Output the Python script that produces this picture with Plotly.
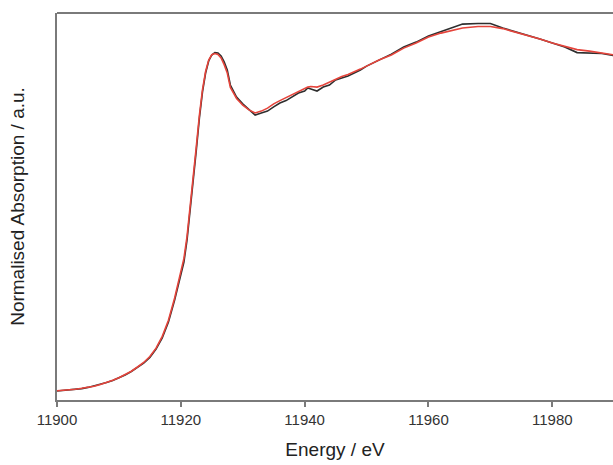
import plotly.graph_objects as go

# Energy grid (eV)
energy = [11900, 11901, 11902, 11903, 11904, 11905, 11906, 11907, 11908, 11909,
          11910, 11911, 11912, 11913, 11914, 11915, 11916, 11917, 11918, 11919,
          11920, 11920.5, 11921, 11921.5, 11922, 11922.5, 11923, 11923.5, 11924, 11924.5,
          11925, 11925.5, 11926, 11926.5, 11927, 11927.5, 11928, 11929, 11930, 11931,
          11932, 11933, 11934, 11935, 11936, 11937, 11938, 11939, 11940, 11940.5,
          11941, 11942, 11943, 11944, 11945, 11946, 11947, 11948, 11949, 11950,
          11952, 11954, 11956, 11958, 11960, 11962, 11964, 11965.5, 11968, 11970,
          11972, 11974, 11976, 11978, 11980, 11982, 11984, 11986, 11988, 11990]

# Normalised absorption, sample 1 (black)
abs_black = [0.030, 0.032, 0.033, 0.037, 0.038, 0.042, 0.047, 0.052, 0.058, 0.065,
             0.073, 0.083, 0.095, 0.108, 0.123, 0.142, 0.170, 0.207, 0.260, 0.333,
             0.417, 0.460, 0.533, 0.627, 0.723, 0.833, 0.940, 1.027, 1.090, 1.130,
             1.150, 1.158, 1.157, 1.147, 1.127, 1.100, 1.050, 1.010, 0.987, 0.970,
             0.950, 0.957, 0.963, 0.977, 0.990, 0.998, 1.010, 1.023, 1.030, 1.040,
             1.037, 1.030, 1.043, 1.050, 1.067, 1.073, 1.080, 1.090, 1.100, 1.113,
             1.133, 1.153, 1.177, 1.193, 1.213, 1.227, 1.240, 1.253, 1.255, 1.255,
             1.240, 1.228, 1.217, 1.203, 1.190, 1.177, 1.158, 1.157, 1.155, 1.148]

# Normalised absorption, sample 2 (red)
abs_red = [0.031, 0.032, 0.034, 0.036, 0.039, 0.042, 0.046, 0.052, 0.058, 0.066,
           0.074, 0.084, 0.096, 0.110, 0.125, 0.145, 0.173, 0.212, 0.266, 0.340,
           0.425, 0.472, 0.545, 0.640, 0.737, 0.845, 0.950, 1.035, 1.095, 1.133,
           1.151, 1.155, 1.152, 1.140, 1.118, 1.090, 1.042, 1.005, 0.983, 0.967,
           0.957, 0.963, 0.973, 0.987, 0.998, 1.008, 1.018, 1.030, 1.038, 1.043,
           1.045, 1.043, 1.050, 1.060, 1.070, 1.078, 1.085, 1.093, 1.103, 1.113,
           1.133, 1.150, 1.173, 1.190, 1.210, 1.223, 1.233, 1.240, 1.245, 1.245,
           1.238, 1.227, 1.215, 1.203, 1.190, 1.180, 1.168, 1.163, 1.157, 1.150]

x_ticks = [11900, 11920, 11940, 11960, 11980]

fig = go.Figure()
fig.add_trace(go.Scatter(x=energy, y=abs_black, mode="lines",
                         line=dict(color="#2e2e2e", width=1.6), showlegend=False))
fig.add_trace(go.Scatter(x=energy, y=abs_red, mode="lines",
                         line=dict(color="#e5443b", width=1.6), showlegend=False))

fig.add_shape(type="line", xref="paper", yref="paper", x0=0, x1=1, y0=1, y1=1,
              line=dict(color="#7a7a7a", width=2))

fig.update_layout(
    width=613, height=465,
    margin=dict(l=57, r=0, t=13, b=65),
    paper_bgcolor="white", plot_bgcolor="white",
    font=dict(family="Liberation Sans, Arial, sans-serif", color="#333333"),
    xaxis=dict(range=[11900, 11989.8], tickvals=x_ticks,
               ticktext=[str(v) for v in x_ticks],
               showline=True, linecolor="#7a7a7a", linewidth=2,
               ticks="outside", ticklen=5, tickwidth=1.5, tickcolor="#7a7a7a",
               tickfont=dict(size=15, color="#333333"),
               showgrid=False, zeroline=False,
               title=dict(text="Energy / eV", font=dict(size=19, color="#222222"),
                          standoff=16)),
    yaxis=dict(range=[0, 1.29], showline=True, linecolor="#7a7a7a", linewidth=2,
               ticks="", showticklabels=False, showgrid=False, zeroline=False,
               title=dict(text="Normalised Absorption / a.u.",
                          font=dict(size=19, color="#222222"), standoff=25)),
)

fig.write_html(
    "out.html",
    config={"displayModeBar": False},
    post_script="document.body.style.margin='0';document.body.style.overflow='hidden';",
)
